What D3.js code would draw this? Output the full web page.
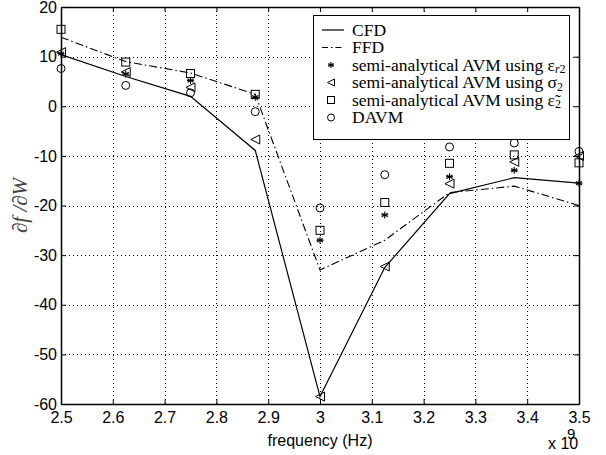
<!DOCTYPE html>
<html><head><meta charset="utf-8">
<script src="https://cdn.jsdelivr.net/npm/d3@7"></script>
<style>body{margin:0;background:#fff}svg{display:block}</style>
</head><body>
<script>
const freq = [2.5, 2.625, 2.75, 2.875, 3.0, 3.125, 3.25, 3.375, 3.5];
const cfd = [10.4, 6.0, 2.0, -8.9, -58.5, -32.5, -17.6, -14.4, -15.5];
const ffd = [13.9, 9.0, 6.7, 2.4, -33.0, -27.0, -17.4, -16.1, -20.0];
const avmEpsR2 = [10.6, 6.5, 5.2, 1.8, -27.0, -21.9, -14.2, -12.9, -15.5];
const avmSigma2 = [10.9, 6.9, 3.8, -6.7, -58.5, -32.3, -15.6, -11.2, -10.0];
const avmEps2 = [15.5, 8.9, 6.6, 2.4, -25.0, -19.4, -11.5, -9.8, -11.4];
const davm = [7.6, 4.2, 2.7, -1.1, -20.5, -13.8, -8.2, -7.4, -9.1];
const xTicks = [2.5, 2.6, 2.7, 2.8, 2.9, 3.0, 3.1, 3.2, 3.3, 3.4, 3.5];
const xTickLabels = ["2.5","2.6","2.7","2.8","2.9","3","3.1","3.2","3.3","3.4","3.5"];
const yTicks = [20, 10, 0, -10, -20, -30, -40, -50, -60];
const yTickLabels = ["20","10","0","-10","-20","-30","-40","-50","-60"];

const W = 606, H = 455;
const L = 61, R = 579, T = 7, B = 404;
const svg = d3.select("body").append("svg").attr("width", W).attr("height", H);
const x = d3.scaleLinear().domain([2.5, 3.5]).range([L, R]);
const y = d3.scaleLinear().domain([-60, 20]).range([B, T]);
const sans = "'Liberation Sans', Arial, sans-serif";
const serif = "'Liberation Serif', 'Times New Roman', serif";

// grid
const grid = svg.append("g").attr("stroke", "#000").attr("stroke-width", 1).attr("stroke-dasharray", "1,3").attr("fill", "none");
xTicks.slice(1, -1).forEach(t => grid.append("line").attr("x1", Math.round(x(t)) + 0.5).attr("x2", Math.round(x(t)) + 0.5).attr("y1", T).attr("y2", B));
yTicks.slice(1, -1).forEach(t => grid.append("line").attr("x1", L).attr("x2", R).attr("y1", Math.round(y(t)) + 0.5).attr("y2", Math.round(y(t)) + 0.5));

// axes (inward ticks, matlab style)
const axB = d3.axisBottom(x).tickValues(xTicks).tickFormat((d, i) => xTickLabels[i]).tickSizeInner(-5).tickSizeOuter(0).tickPadding(8);
const axT = d3.axisTop(x).tickValues(xTicks).tickFormat("").tickSizeInner(-5).tickSizeOuter(0);
const axL = d3.axisLeft(y).tickValues(yTicks).tickFormat((d, i) => yTickLabels[i]).tickSizeInner(-5).tickSizeOuter(0).tickPadding(4);
const axR = d3.axisRight(y).tickValues(yTicks).tickFormat("").tickSizeInner(-5).tickSizeOuter(0);
function style(g) {
  g.selectAll("path.domain").attr("stroke", "#000").attr("stroke-width", 1.5);
  g.selectAll("line").attr("stroke", "#000");
  g.selectAll("text").attr("font-family", sans).attr("font-size", 16).attr("fill", "#000");
}
svg.append("g").attr("transform", `translate(0,${B})`).call(axB).call(style);
svg.append("g").attr("transform", `translate(0,${T})`).call(axT).call(style);
svg.append("g").attr("transform", `translate(${L},0)`).call(axL).call(style);
svg.append("g").attr("transform", `translate(${R},0)`).call(axR).call(style);

// lines
const line = d3.line().x((d, i) => x(freq[i])).y(d => y(d));
svg.append("path").datum(cfd).attr("d", line).attr("fill", "none").attr("stroke", "#000").attr("stroke-width", 1.2);
svg.append("path").datum(ffd).attr("d", line).attr("fill", "none").attr("stroke", "#000").attr("stroke-width", 1.1).attr("stroke-dasharray", "8,3,1.5,3");

// markers
function star(g, cx, cy, s) {
  const p = g.append("g").attr("transform", `translate(${cx},${cy})`).attr("stroke", "#000").attr("stroke-width", 1.1);
  [0, 60, 120].forEach(a => {
    const r = a * Math.PI / 180;
    p.append("line").attr("x1", -s * Math.sin(r)).attr("y1", -s * Math.cos(r)).attr("x2", s * Math.sin(r)).attr("y2", s * Math.cos(r));
  });
  p.append("line").attr("x1", -s).attr("x2", s).attr("y1", 0).attr("y2", 0);
}
function tri(g, cx, cy, s) {
  g.append("path").attr("d", `M${cx - s},${cy} L${cx + s},${cy - s} L${cx + s},${cy + s} Z`).attr("fill", "none").attr("stroke", "#000").attr("stroke-width", 1);
}
function sq(g, cx, cy, s) {
  g.append("rect").attr("x", cx - s).attr("y", cy - s).attr("width", 2 * s).attr("height", 2 * s).attr("fill", "none").attr("stroke", "#000").attr("stroke-width", 1);
}
function circ(g, cx, cy, s) {
  g.append("circle").attr("cx", cx).attr("cy", cy).attr("r", s).attr("fill", "none").attr("stroke", "#000").attr("stroke-width", 1);
}
const mk = svg.append("g");
freq.forEach((f, i) => {
  star(mk, x(f), y(avmEpsR2[i]), 3.5);
  tri(mk, x(f), y(avmSigma2[i]), 4.5);
  sq(mk, x(f), y(avmEps2[i]), 4);
  circ(mk, x(f), y(davm[i]), 4);
});

// legend
const lg = svg.append("g");
lg.append("rect").attr("x", 313.5).attr("y", 15.5).attr("width", 256).attr("height", 124).attr("fill", "#fff").attr("stroke", "#000").attr("stroke-width", 1);
const rows = [30, 47.5, 65, 82.5, 100, 117.5];
lg.append("line").attr("x1", 322).attr("x2", 344).attr("y1", rows[0]).attr("y2", rows[0]).attr("stroke", "#000").attr("stroke-width", 1.2);
lg.append("line").attr("x1", 322).attr("x2", 344).attr("y1", rows[1]).attr("y2", rows[1]).attr("stroke", "#000").attr("stroke-width", 1.1).attr("stroke-dasharray", "6,3,1.5,3");
star(lg, 331, rows[2], 3);
tri(lg, 331, rows[3], 3.5);
sq(lg, 331, rows[4], 3.5);
circ(lg, 331, rows[5], 3.5);
const fs = 17.5;
function ltext(i) {
  return lg.append("text").attr("x", 352).attr("y", rows[i] + 5.5).attr("font-family", serif).attr("font-size", fs).attr("fill", "#000");
}
ltext(0).text("CFD");
ltext(1).text("FFD");
let t = ltext(2); t.append("tspan").text("semi-analytical AVM using ε");
t.append("tspan").attr("font-size", 12).attr("font-style", "italic").attr("dy", 2.5).text("r");
t.append("tspan").attr("font-size", 12).text("2");
t = ltext(3); t.append("tspan").text("semi-analytical AVM using σ");
t.append("tspan").attr("font-size", 12).attr("dy", 2.5).text("2");
t = ltext(4); t.append("tspan").text("semi-analytical AVM using ε̃");
t.append("tspan").attr("font-size", 12).attr("dy", 2.5).text("2");
ltext(5).text("DAVM");

// axis labels
svg.append("text").attr("x", x(3.0)).attr("y", 446).attr("text-anchor", "middle").attr("font-family", sans).attr("font-size", 16).text("frequency (Hz)");
const ex = svg.append("text").attr("x", 548).attr("y", 449).attr("font-family", sans).attr("font-size", 16);
ex.append("tspan").text("x 10");
ex.append("tspan").attr("x", 567).attr("dy", -10).attr("font-size", 15).text("9");
svg.append("text").attr("transform", `translate(27,${y(-20)}) rotate(-90)`).attr("text-anchor", "middle")
  .attr("font-family", serif).attr("font-style", "italic").attr("font-size", 21).attr("fill", "#444").text("∂f /∂W");
</script>
</body></html>
